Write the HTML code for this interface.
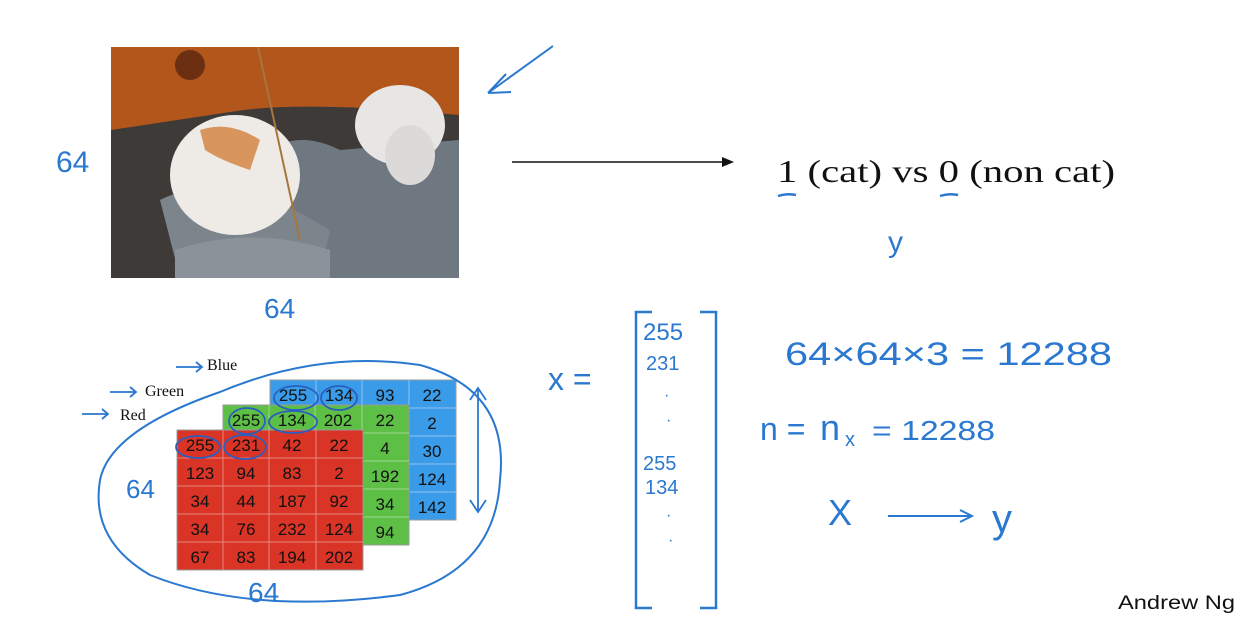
<!DOCTYPE html>
<html><head><meta charset="utf-8"><style>
html,body{margin:0;padding:0;background:#fff;width:1238px;height:621px;overflow:hidden}
svg{display:block}
.h{font-family:"Liberation Sans",sans-serif;fill:#2a78cf}
.s{font-family:"Liberation Serif",serif;fill:#111}
.g{font-family:"Liberation Sans",sans-serif;font-size:17px;fill:#111;text-anchor:middle}
</style></head><body>
<svg width="1238" height="621" viewBox="0 0 1238 621" xmlns="http://www.w3.org/2000/svg">
<defs><clipPath id="ph"><rect x="111" y="47" width="348" height="231"/></clipPath></defs>
<g clip-path="url(#ph)">
<rect x="111" y="47" width="348" height="231" fill="#3d3a38"/>
<path d="M111 47H459V115Q300 100 230 112L111 130Z" fill="#b2561c"/>
<circle cx="190" cy="65" r="15" fill="#6d2f12"/>
<path d="M270 150Q300 130 340 150L459 140V278H300Z" fill="#6f7780"/>
<path d="M160 200Q200 180 260 190L330 230L320 278H180Z" fill="#7d858c"/>
<ellipse cx="235" cy="175" rx="65" ry="60" fill="#eeeae6"/>
<path d="M200 130Q230 120 260 140L250 170Q220 160 205 150Z" fill="#d9955e"/>
<ellipse cx="400" cy="125" rx="45" ry="40" fill="#e8e6e4"/>
<ellipse cx="410" cy="155" rx="25" ry="30" fill="#dcdad8"/>
<path d="M258 47L300 240" stroke="#a5773d" stroke-width="2"/>
<path d="M175 250Q250 225 330 250L330 278H175Z" fill="#8b929a"/>
</g>
<path d="M553 46L488 93M488 93L506 74M488 93L511 92" stroke="#2a78cf" stroke-width="2" fill="none"/>
<text class="h" x="56" y="172" font-size="30">64</text>
<text class="h" x="264" y="318" font-size="28">64</text>
<line x1="512" y1="162" x2="728" y2="162" stroke="#111" stroke-width="1.5"/>
<path d="M734 162L722 157L722 167Z" fill="#111"/>
<text class="s" x="777" y="182" font-size="32" textLength="338" lengthAdjust="spacingAndGlyphs">1 (cat) vs 0 (non cat)</text>
<path d="M778 196Q787 193 796 195M940 196Q949 193 958 195" stroke="#2a78cf" stroke-width="2.5" fill="none"/>
<text class="h" x="888" y="252" font-size="30">y</text>
<text class="s" x="207" y="370" font-size="16">Blue</text>
<text class="s" x="145" y="396" font-size="16">Green</text>
<text class="s" x="120" y="420" font-size="16">Red</text>
<path d="M176 367h26m-6-5l6 5l-6 5M110 392h26m-6-5l6 5l-6 5M82 414h26m-6-5l6 5l-6 5" stroke="#2a78cf" stroke-width="1.8" fill="none"/>
<g>
<rect x="270" y="380" width="186" height="140" fill="#3a9be8" stroke="#999"/>
<g stroke="#8fc3ef" stroke-width="1"><line x1="316" y1="380" x2="316" y2="520"/><line x1="362" y1="380" x2="362" y2="520"/><line x1="409" y1="380" x2="409" y2="520"/>
<line x1="270" y1="408" x2="456" y2="408"/><line x1="270" y1="436" x2="456" y2="436"/><line x1="270" y1="464" x2="456" y2="464"/><line x1="270" y1="492" x2="456" y2="492"/></g>
<text class="g" x="293" y="401">255</text><text class="g" x="339" y="401">134</text><text class="g" x="385" y="401">93</text><text class="g" x="432" y="401">22</text>
<text class="g" x="432" y="429">2</text><text class="g" x="432" y="457">30</text><text class="g" x="432" y="485">124</text><text class="g" x="432" y="513">142</text>
</g>
<g>
<rect x="223" y="405" width="186" height="140" fill="#5ebf47" stroke="#999"/>
<g stroke="#9bd98c"><line x1="269" y1="405" x2="269" y2="545"/><line x1="315" y1="405" x2="315" y2="545"/><line x1="362" y1="405" x2="362" y2="545"/>
<line x1="223" y1="433" x2="409" y2="433"/><line x1="223" y1="461" x2="409" y2="461"/><line x1="223" y1="489" x2="409" y2="489"/><line x1="223" y1="517" x2="409" y2="517"/></g>
<text class="g" x="246" y="426">255</text><text class="g" x="292" y="426">134</text><text class="g" x="338" y="426">202</text><text class="g" x="385" y="426">22</text>
<text class="g" x="385" y="454">4</text><text class="g" x="385" y="482">192</text><text class="g" x="385" y="510">34</text><text class="g" x="385" y="538">94</text>
</g>
<g>
<rect x="177" y="430" width="186" height="140" fill="#d93426" stroke="#999"/>
<g stroke="#e8867c"><line x1="223" y1="430" x2="223" y2="570"/><line x1="269" y1="430" x2="269" y2="570"/><line x1="316" y1="430" x2="316" y2="570"/>
<line x1="177" y1="458" x2="363" y2="458"/><line x1="177" y1="486" x2="363" y2="486"/><line x1="177" y1="514" x2="363" y2="514"/><line x1="177" y1="542" x2="363" y2="542"/></g>
<text class="g" x="200" y="451">255</text><text class="g" x="246" y="451">231</text><text class="g" x="292" y="451">42</text><text class="g" x="339" y="451">22</text>
<text class="g" x="200" y="479">123</text><text class="g" x="246" y="479">94</text><text class="g" x="292" y="479">83</text><text class="g" x="339" y="479">2</text>
<text class="g" x="200" y="507">34</text><text class="g" x="246" y="507">44</text><text class="g" x="292" y="507">187</text><text class="g" x="339" y="507">92</text>
<text class="g" x="200" y="535">34</text><text class="g" x="246" y="535">76</text><text class="g" x="292" y="535">232</text><text class="g" x="339" y="535">124</text>
<text class="g" x="200" y="563">67</text><text class="g" x="246" y="563">83</text><text class="g" x="292" y="563">194</text><text class="g" x="339" y="563">202</text>
</g>
<g stroke="#2a5fc0" stroke-width="1.8" fill="none">
<ellipse cx="198" cy="447" rx="22" ry="11"/><ellipse cx="245" cy="447" rx="21" ry="12"/>
<ellipse cx="247" cy="421" rx="18" ry="13"/><ellipse cx="293" cy="422" rx="24" ry="11"/>
<ellipse cx="296" cy="398" rx="22" ry="12"/><ellipse cx="339" cy="398" rx="18" ry="12"/>
</g>
<path d="M220 392Q320 350 420 365Q510 390 500 480Q495 570 400 595Q250 615 150 575Q90 540 100 480Q110 430 220 392" stroke="#2a78cf" stroke-width="2" fill="none"/>
<path d="M478 388V512M470 400L478 388L486 400M470 500L478 512L486 500" stroke="#2a78cf" stroke-width="1.8" fill="none"/>
<text class="h" x="126" y="498" font-size="26">64</text>
<text class="h" x="248" y="602" font-size="28">64</text>
<text class="h" x="548" y="390" font-size="32">x =</text>
<path d="M652 312H636V608H652M700 312H716V608H700" stroke="#2a78cf" stroke-width="2.5" fill="none"/>
<text class="h" x="643" y="340" font-size="24">255</text>
<text class="h" x="646" y="370" font-size="20">231</text>
<text class="h" x="664" y="400" font-size="16">·</text><text class="h" x="666" y="425" font-size="16">·</text>
<text class="h" x="643" y="470" font-size="20">255</text>
<text class="h" x="645" y="494" font-size="20">134</text>
<text class="h" x="666" y="520" font-size="16">·</text><text class="h" x="668" y="545" font-size="16">·</text>
<text class="h" x="785" y="365" font-size="32" textLength="327" lengthAdjust="spacingAndGlyphs">64×64×3 = 12288</text>
<text class="h" x="760" y="440" font-size="32">n =</text>
<text class="h" x="820" y="440" font-size="36">n</text>
<text class="h" x="845" y="446" font-size="20">x</text>
<text class="h" x="872" y="440" font-size="28" textLength="123" lengthAdjust="spacingAndGlyphs">= 12288</text>
<text class="h" x="828" y="525" font-size="36">X</text>
<path d="M888 516H970M960 510L972 516L960 522" stroke="#2a78cf" stroke-width="2" fill="none"/>
<text class="h" x="992" y="532" font-size="40">y</text>
<text x="1118" y="609" font-family="Liberation Sans,sans-serif" font-size="19" fill="#111" textLength="117" lengthAdjust="spacingAndGlyphs">Andrew Ng</text>
</svg>
</body></html>
